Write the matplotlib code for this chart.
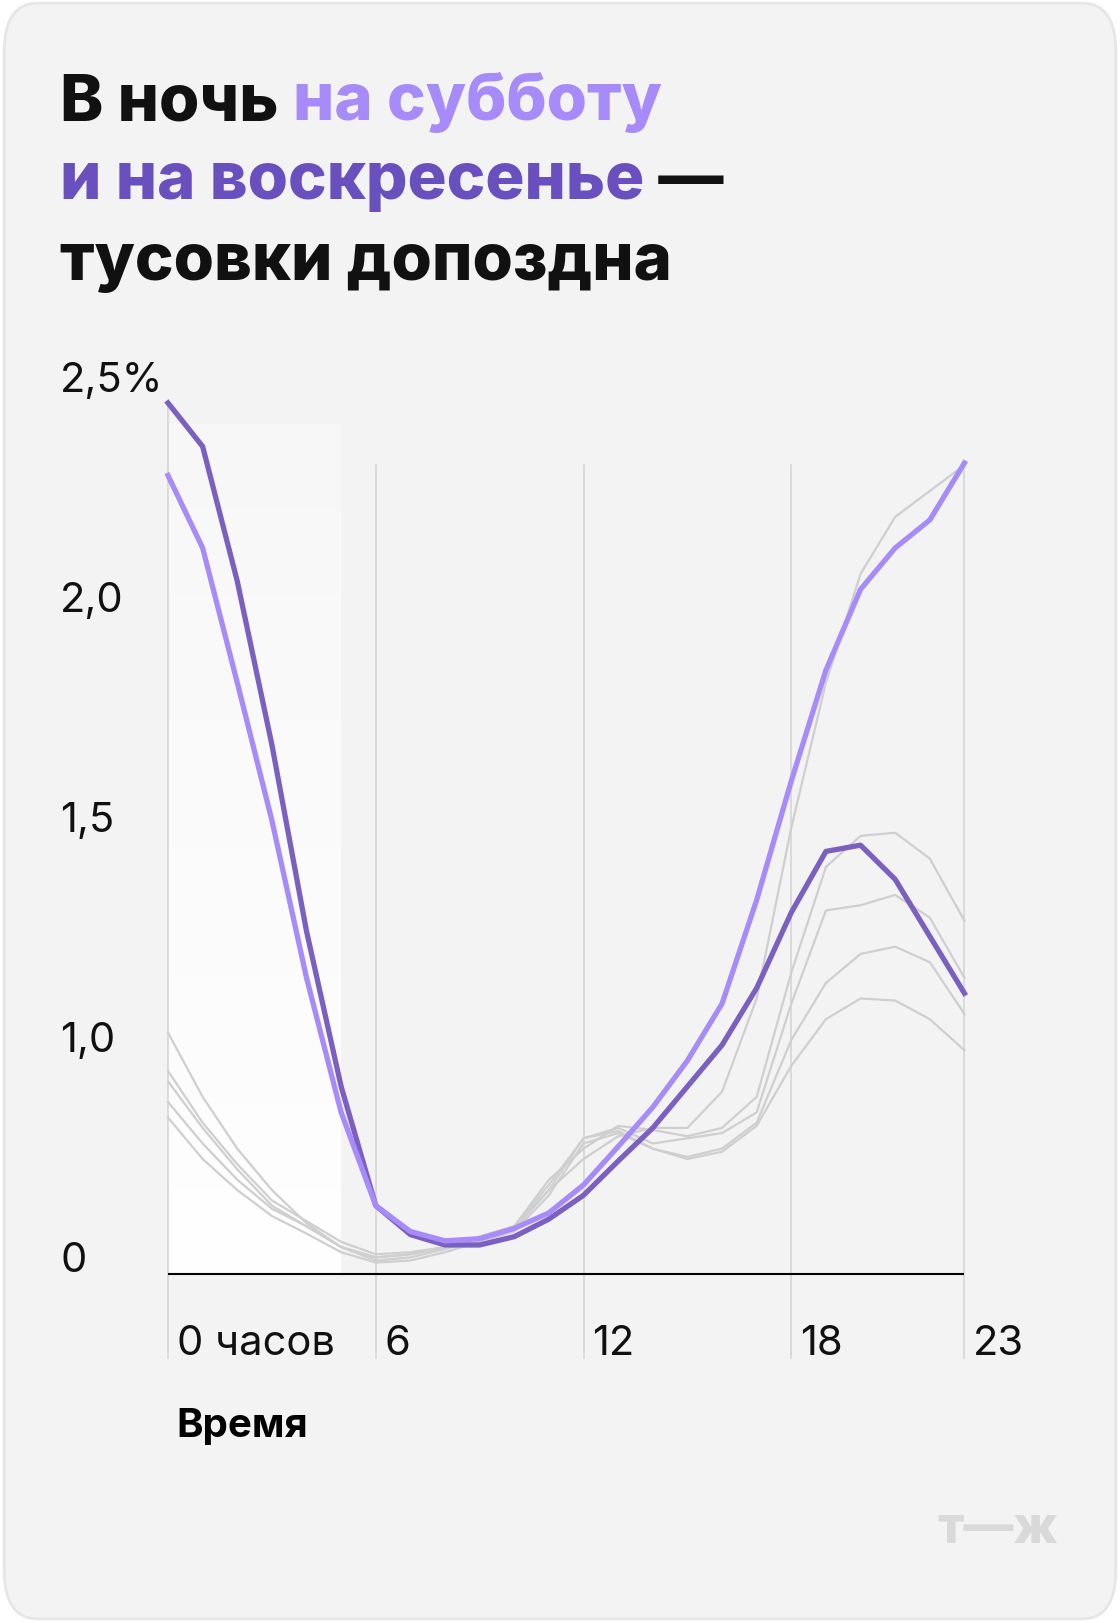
import matplotlib
matplotlib.use("Agg")
import matplotlib.pyplot as plt
from matplotlib.patches import FancyBboxPatch, Rectangle
import numpy as np

hours = list(range(24))
# values in chart units (one unit = one tick step)
S = 212.5
def u(px): return [(1231 - p) / S for p in px]
sunday = u([390,432,562,720,900,1050,1165,1193,1203,1203,1195,1178,1155,1122,1090,1050,1010,955,882,823,817,850,905,960])
saturday = u([460,530,660,793,945,1075,1165,1190,1199,1197,1187,1172,1145,1108,1070,1025,970,870,755,648,570,530,503,448])
weekdays = [
 u([998,1060,1110,1150,1182,1205,1215,1212,1205,1195,1185,1150,1120,1098,1090,1090,1055,965,800,660,555,500,475,450]),
 u([1035,1085,1125,1160,1180,1200,1212,1210,1205,1195,1185,1140,1110,1088,1092,1098,1090,1060,940,838,808,805,830,890]),
 u([1045,1090,1130,1165,1185,1205,1215,1212,1205,1195,1185,1145,1100,1090,1105,1100,1095,1075,970,880,875,865,887,945]),
 u([1065,1105,1140,1168,1185,1205,1218,1215,1207,1198,1188,1150,1100,1093,1110,1118,1110,1085,1005,950,922,915,930,980]),
 u([1080,1120,1150,1175,1192,1210,1220,1218,1210,1200,1190,1155,1105,1095,1110,1120,1113,1088,1030,985,965,967,985,1015]),
]
ytick_pos = [0, 1, 2, 3, 4]
ytick_lab = ["0", "1,0", "1,5", "2,0", "2,5%"]
xtick_pos = [0, 6, 12, 18, 23]
xtick_lab = ["0 часов", "6", "12", "18", "23"]

W, H = 1080, 1568
fig = plt.figure(figsize=(11.2, 16.24), dpi=100)
fig.patch.set_facecolor("white")
card = FancyBboxPatch((4/W, 4/H), 1 - 8/W, 1 - 8/H, boxstyle="round,pad=0,rounding_size=0.03",
                      transform=fig.transFigure, facecolor="#f3f3f3", edgecolor="#e6e6e6", lw=2, zorder=-10)
fig.patches.append(card)

ax = fig.add_axes([162/W, 1 - 1312/H, (930-162)/W, (1312-368)/H])
ax.set_zorder(5)
ax.set_facecolor("none")
ax.set_xlim(0, 23)
ax.set_ylim(-(1312-1231)/S, (1231-368)/S)
for s in ax.spines.values(): s.set_visible(False)
ax.set_xticks([]); ax.set_yticks([])

# night-time panel with soft fade towards the top
top = (1231-410)/S
for i in range(20):
    y0 = top * i / 20
    ax.add_patch(Rectangle((0, y0), 5, top/20, facecolor="white", edgecolor="none",
                           alpha=0.95 * (1 - 0.6 * i / 19), zorder=0))
for x in xtick_pos:
    ax.plot([x, x], [ax.get_ylim()[0], (1231-390)/S if x == 0 else (1231-450)/S],
            color="#d6d6d6", lw=1.2, zorder=1, clip_on=False)
ax.axhline(0, color="black", lw=1.5, zorder=2)

for w in weekdays:
    ax.plot(hours, w, color="#cfcfcf", lw=1.6, zorder=3, clip_on=False)
ax.plot(hours, saturday, color="#a78bfa", lw=3.8, zorder=5, clip_on=False)
ax.plot(hours, sunday, color="#7b60c2", lw=3.8, zorder=4, clip_on=False)

for p, l in zip(ytick_pos, ytick_lab):
    fig.text(58/W, 1 - (1231 - p*S - 13)/H, l, fontsize=30, family="Inter", va="center", ha="left", color="#111")
for p, l in zip(xtick_pos, xtick_lab):
    ax.text(p + 0.25, -(1298-1231)/S, l, fontsize=30, family="Inter", va="center", ha="left", color="#111")
fig.text(170/W, 1 - 1377/H, "Время", fontsize=29, family="Inter", weight="bold", va="center", ha="left")

def line(y, parts):
    fig.canvas.draw()
    r = fig.canvas.get_renderer()
    x = 58/W
    for txt, col in parts:
        t = fig.text(x, 1 - y/H, txt, fontsize=47, family="Inter", weight="heavy", color=col, va="baseline", ha="left")
        bb = t.get_window_extent(r)
        x += bb.width / fig.bbox.width

line(116, [("В ночь ", "#111111"), ("на субботу", "#a78bfa")])
line(192, [("и на воскресенье", "#6a4fbf"), (" —", "#111111")])
line(270, [("тусовки допоздна", "#111111")])

fig.text(1020/W, 1 - 1477/H, "т—ж", fontsize=36, family="Inter", weight="heavy", color="#d9d9d9", va="center", ha="right")
fig.savefig("out.png", dpi=100, facecolor=fig.get_facecolor())
